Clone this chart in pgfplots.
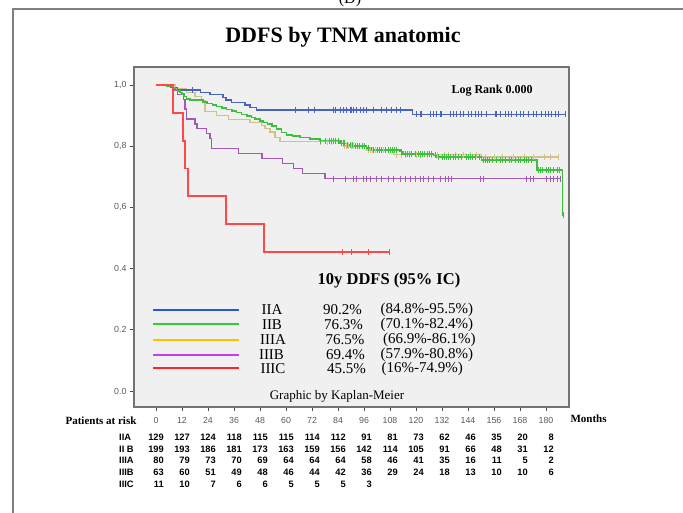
\documentclass[border=0pt]{standalone}
\usepackage{fontspec}
\setmainfont{Liberation Serif}
\setsansfont{Liberation Sans}
\usepackage{pgfplots}
\pgfplotsset{compat=1.18}

\definecolor{bggray}{HTML}{F0F0F0}
\definecolor{cA}{HTML}{4A63C0}
\definecolor{cB}{HTML}{3DBE3D}
\definecolor{cC}{HTML}{D0C288}
\definecolor{cD}{HTML}{A259B8}
\definecolor{cE}{HTML}{FF4848}
\definecolor{lA}{HTML}{2B55D6}
\definecolor{lB}{HTML}{33CC33}
\definecolor{lC}{HTML}{FFC000}
\definecolor{lD}{HTML}{C83CF0}
\definecolor{lE}{HTML}{FF2424}

\begin{document}
\begin{tikzpicture}[x=1pt,y=1pt]
\path[use as bounding box] (0,0) rectangle (683,513);
\clip (0,0) rectangle (683,513);
\draw[black!50, line width=1.4pt] (13,-5) -- (13,504) -- (690,504);
\node[font=\fontsize{16}{18}\selectfont, anchor=base] at (350,509) {(D)};
\node[font=\bfseries\fontsize{22}{25}\selectfont] at (343,476) {DDFS by TNM anatomic};

\begin{axis}[
    at={(134pt,106pt)}, anchor=south west,
    scale only axis, width=435pt, height=340pt,
    xmin=-10.15, xmax=190.6,
    ymin=-0.0523, ymax=1.0588,
    axis background/.style={fill=bggray},
    axis line style={draw=black!55, line width=1.2pt},
    xtick={0,12,...,180},
    ytick={0,0.2,0.4,0.6,0.8,1.0},
    yticklabels={0.0,0.2,0.4,{0,6},{0,8},{1,0}},
    xtick pos=lower, ytick pos=left,
    tick align=outside, major tick length=4pt,
    tick style={black!70, line width=0.8pt},
    ticklabel style={font=\sffamily\fontsize{8.8}{10}\selectfont, text=black!65},
    xticklabel style={yshift=-3pt},
    /pgf/number format/assume math mode=true,
    cens/.style={only marks, mark=|, mark size=3pt, mark options={line width=0.7pt}, forget plot},
]
% IIIA
\addplot[const plot, cC, line width=1.4pt] coordinates {
(0,1) (9,0.9875) (14,0.975) (18,0.9625) (21,0.950) (22.6,0.913) (28,0.900) (33.4,0.888)
(43.4,0.878) (48.8,0.868) (50.3,0.858) (52.6,0.847) (55,0.829) (57.2,0.815) (86.5,0.801)
(97.2,0.788) (109.5,0.772) (150.3,0.765) (185.7,0.765)};
\addplot[cens, cC] coordinates {
(76,0.815) (79,0.815) (81,0.815)
(87,0.801) (88,0.801) (89,0.801) (90,0.801) (91,0.801) (93,0.801) (95,0.801)
(98,0.788) (99,0.788) (100,0.788) (101,0.788) (102,0.788) (103,0.788) (104,0.788) (105,0.788) (106,0.788) (107,0.788) (108,0.788)
(111,0.772) (113,0.772) (115,0.772) (117,0.772) (120,0.772) (122,0.772) (125,0.772) (127,0.772) (130,0.772) (133,0.772) (135,0.772) (138,0.772) (142,0.772) (145,0.772) (148,0.772)
(152,0.765) (156,0.765) (160,0.765) (165,0.765) (170,0.765) (174,0.765) (179,0.765) (182,0.765) (185.7,0.765)};
% IIIB
\addplot[const plot, cD, line width=1.4pt] coordinates {
(0,1) (8,0.984) (10,0.968) (12.6,0.952) (13.4,0.921) (14.2,0.889) (18,0.873) (19,0.857)
(23.4,0.841) (24.9,0.825) (25.7,0.793) (38,0.777) (49,0.760) (58.5,0.744) (63.4,0.728)
(67.5,0.711) (78,0.694) (186.5,0.694)};
\addplot[cens, cD] coordinates {
(81.8,0.694) (87.2,0.694) (91.1,0.694) (92.6,0.694) (95.7,0.694) (97.2,0.694) (98.8,0.694)
(101.8,0.694) (104.1,0.694) (107.2,0.694) (109.5,0.694) (112.6,0.694) (114.9,0.694) (117.2,0.694)
(119.5,0.694) (121.8,0.694) (123.4,0.694) (125.7,0.694) (128,0.694) (131.1,0.694) (133.4,0.694)
(134.9,0.694) (136.5,0.694) (149.5,0.694) (151.1,0.694) (171.1,0.694) (172.6,0.694) (174.2,0.694)
(180.3,0.694) (181.9,0.694) (183.4,0.694) (185,0.694) (186.5,0.694)};
% IIA
\addplot[const plot, cA, line width=1.4pt] coordinates {
(0,1) (7,0.992) (10,0.984) (20.6,0.976) (24.9,0.968) (31,0.960) (32.3,0.951) (34.9,0.943)
(41,0.935) (43.4,0.927) (46.5,0.918) (118.3,0.904) (188.7,0.904)};
\addplot[cens, cA] coordinates {
(17,0.984)
(64.1,0.918) (70.3,0.918) (73,0.918) (81.8,0.918) (83,0.918) (84.9,0.918) (86.4,0.918) (88,0.918)
(89.5,0.918) (90.3,0.918) (91.1,0.918) (92.6,0.918) (94.2,0.918) (95.7,0.918) (97.2,0.918)
(100.3,0.918) (104.1,0.918) (106.4,0.918) (108.7,0.918) (111,0.918) (112.6,0.918)
(120.3,0.904) (121.8,0.904) (122.6,0.904) (126.4,0.904) (128,0.904) (129.5,0.904) (131.1,0.904)
(131.8,0.904) (135.7,0.904) (137.2,0.904) (138.8,0.904) (140.3,0.904) (141.8,0.904) (144.1,0.904)
(145.7,0.904) (147.2,0.904) (148.7,0.904) (150.3,0.904) (152.6,0.904) (156.4,0.904) (157.2,0.904)
(158.7,0.904) (161,0.904) (162.6,0.904) (164.1,0.904) (166.4,0.904) (168,0.904) (169.5,0.904)
(171.8,0.904) (174.2,0.904) (175.7,0.904) (178,0.904) (179.5,0.904) (181.1,0.904) (182.6,0.904)
(184.1,0.904) (185.7,0.904) (188.7,0.904)};
% IIB
\addplot[const plot, cB, line width=1.6pt] coordinates {
(0,1) (5,0.995) (8,0.990) (9,0.985) (10,0.980) (11,0.975) (12,0.970) (13,0.962) (14,0.955)
(15.7,0.950) (21.8,0.945) (23.4,0.940) (26,0.935) (28,0.930) (30.5,0.925) (32.6,0.920)
(35,0.915) (37.2,0.910) (39.5,0.904) (41.9,0.899) (44,0.894) (45.7,0.888) (48,0.883)
(49.5,0.878) (51.5,0.872) (53.4,0.866) (55.7,0.856) (58,0.845) (60.3,0.837) (63,0.833)
(66.4,0.828) (71.1,0.824) (75.7,0.818) (84.9,0.809) (88,0.804) (91.1,0.800) (97.2,0.795)
(99.5,0.788) (112.6,0.782) (114.1,0.775) (128,0.770) (129.5,0.765) (150.3,0.755)
(175.7,0.722) (187.6,0.575) (188.3,0.575)};
\addplot[cens, cB] coordinates {
(76,0.818) (78,0.818) (80,0.818) (81,0.818) (82,0.818) (83,0.818) (84,0.818)
(85.5,0.809) (86.5,0.809) (87,0.809)
(88.5,0.804) (89.5,0.804) (90.5,0.804)
(92,0.800) (93,0.800) (94,0.800) (95,0.800) (96,0.800)
(98,0.795)
(100.5,0.788) (102,0.788) (103,0.788) (104,0.788) (106,0.788) (107,0.788) (108,0.788) (109,0.788) (110,0.788) (111,0.788)
(113,0.782)
(115,0.775) (116,0.775) (117,0.775) (118,0.775) (119.5,0.775) (121,0.775) (122,0.775) (123,0.775) (124,0.775) (125,0.775) (126,0.775) (127,0.775)
(128.7,0.770)
(130.5,0.765) (132,0.765) (133,0.765) (134,0.765) (135,0.765) (136,0.765) (137,0.765) (138,0.765) (139.5,0.765) (141,0.765) (143,0.765) (144,0.765) (145,0.765) (146,0.765) (147.5,0.765) (149,0.765)
(151,0.755) (152,0.755) (153,0.755) (154,0.755) (155,0.755) (157,0.755) (159,0.755) (160,0.755) (161,0.755) (163,0.755) (164,0.755) (166,0.755) (167,0.755) (168,0.755) (170,0.755) (171,0.755) (172,0.755) (173,0.755)
(176.5,0.722) (177.5,0.722) (178.5,0.722) (180,0.722) (181,0.722) (182,0.722) (183.5,0.722) (185,0.722) (186,0.722)
(188,0.575)};
% IIIC
\addplot[const plot, cE, line width=1.9pt] coordinates {
(0,1) (8,0.909) (12.6,0.818) (13.4,0.727) (14.9,0.636) (32.2,0.545) (50,0.4545) (107.7,0.4545)};
\addplot[cens, cE] coordinates {
(86.1,0.4545) (90.3,0.4545) (98.1,0.4545) (107.7,0.4545)};
\end{axis}

% texts inside the plot
\node[font=\bfseries\fontsize{12}{14}\selectfont, anchor=west] at (448,422) {Log Rank 0.000};
\node[font=\bfseries\fontsize{16.5}{19}\selectfont] at (389,232) {10y DDFS (95\% IC)};
\begin{scope}[font=\fontsize{15}{17}\selectfont]
\draw[lA, line width=2pt] (153,203) -- (239,203);
\draw[lB, line width=2pt] (153,188.5) -- (239,188.5);
\draw[lC, line width=2pt] (153,173) -- (239,173);
\draw[lD, line width=2pt] (153,158) -- (239,158);
\draw[lE, line width=2pt] (153,144.5) -- (239,144.5);
\node at (272,203) {IIA};
\node at (272,188.5) {IIB};
\node at (273,173) {IIIA};
\node at (271.5,158) {IIIB};
\node at (273,144.5) {IIIC};
\node[anchor=west, inner sep=0] at (323,203) {90.2\%};
\node[anchor=west, inner sep=0] at (324,188.5) {76.3\%};
\node[anchor=west, inner sep=0] at (325.5,173) {76.5\%};
\node[anchor=west, inner sep=0] at (326,158) {69.4\%};
\node[anchor=west, inner sep=0] at (327,144.5) {45.5\%};
\node[anchor=west, inner sep=0] at (380.5,203) {(84.8\%-95.5\%)};
\node[anchor=west, inner sep=0] at (380.5,188.5) {(70.1\%-82.4\%)};
\node[anchor=west, inner sep=0] at (383,173) {(66.9\%-86.1\%)};
\node[anchor=west, inner sep=0] at (380.5,158) {(57.9\%-80.8\%)};
\node[anchor=west, inner sep=0] at (381.5,144.5) {(16\%-74.9\%)};
\end{scope}
\node[font=\fontsize{13}{15}\selectfont] at (337,117) {Graphic by Kaplan-Meier};

% risk table
\node[font=\bfseries\fontsize{11}{13}\selectfont] at (101,92) {Patients at risk};
\node[font=\bfseries\fontsize{11}{13}\selectfont, anchor=west] at (567,94) {Months};
\begin{scope}[every node/.style={font=\sffamily\bfseries\fontsize{9.3}{11}\selectfont, inner sep=0}]
\node[anchor=west] at (119,76) {IIA};
\node[anchor=west] at (119,64) {II B};
\node[anchor=west] at (119,52.5) {IIIA};
\node[anchor=west] at (119,41) {IIIB};
\node[anchor=west] at (119,29) {IIIC};
\foreach \m/\v in {0/129,12/127,24/124,36/118,48/115,60/115,72/114,84/112,96/91,108/81,120/73,132/62,144/46,156/35,168/20,180/8}
  \node[anchor=east] at ({164+2.1667*\m},76) {\v};
\foreach \m/\v in {0/199,12/193,24/186,36/181,48/173,60/163,72/159,84/156,96/142,108/114,120/105,132/91,144/66,156/48,168/31,180/12}
  \node[anchor=east] at ({164+2.1667*\m},64) {\v};
\foreach \m/\v in {0/80,12/79,24/73,36/70,48/69,60/64,72/64,84/64,96/58,108/46,120/41,132/35,144/16,156/11,168/5,180/2}
  \node[anchor=east] at ({164+2.1667*\m},52.5) {\v};
\foreach \m/\v in {0/63,12/60,24/51,36/49,48/48,60/46,72/44,84/42,96/36,108/29,120/24,132/18,144/13,156/10,168/10,180/6}
  \node[anchor=east] at ({164+2.1667*\m},41) {\v};
\foreach \m/\v in {0/11,12/10,24/7,36/6,48/6,60/5,72/5,84/5,96/3}
  \node[anchor=east] at ({164+2.1667*\m},29) {\v};
\end{scope}
\end{tikzpicture}
\end{document}
